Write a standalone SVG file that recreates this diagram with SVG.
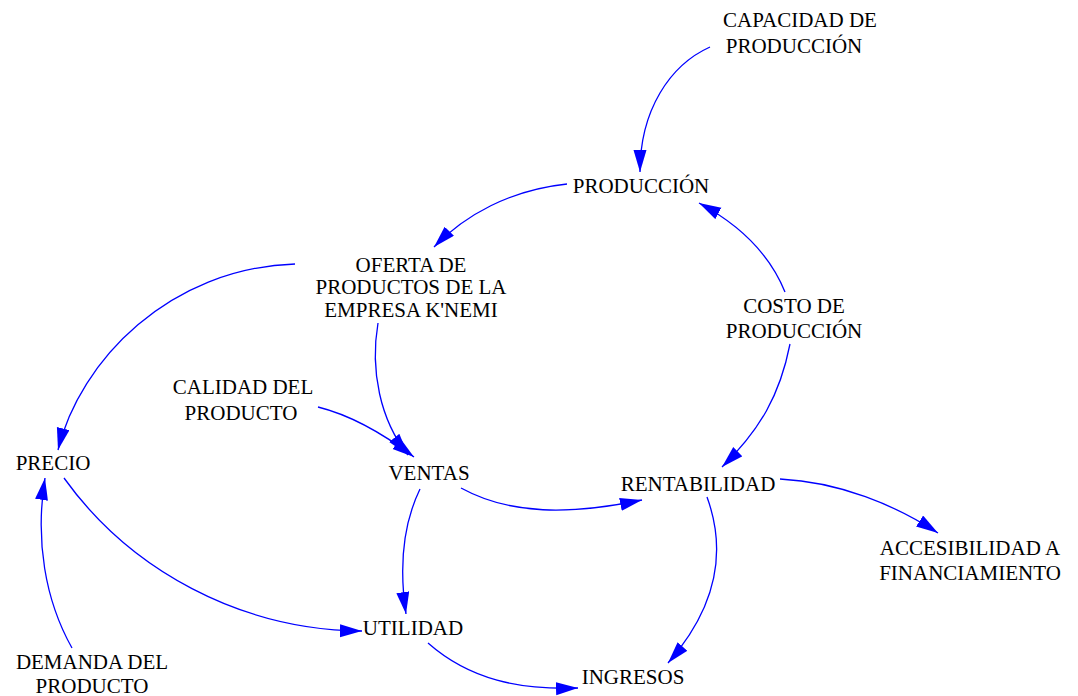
<svg xmlns="http://www.w3.org/2000/svg" width="1078" height="696" viewBox="0 0 1078 696">
<style>
.t text{font-size:21px;fill:#000;text-anchor:middle}
.c{fill:none;stroke:#0000FF;stroke-width:1.3}
</style>
<defs>
<marker id="ah" markerUnits="userSpaceOnUse" markerWidth="24" markerHeight="16" refX="22" refY="6.5" orient="auto">
<path d="M0,0 L22,6.5 L0,13 z" fill="#0000FF"/>
</marker>
</defs>
<rect width="1078" height="696" fill="#fff"/>
<g id="connectors">
<path class="c" marker-end="url(#ah)" d="M710,47 C670,65 640,110 640,172"/>
<path class="c" marker-end="url(#ah)" d="M567,184 C510,190 465,215 434,247"/>
<path class="c" marker-end="url(#ah)" d="M785,292 C770,255 740,225 699,203"/>
<path class="c" marker-end="url(#ah)" d="M790,344 C780,395 760,430 722,467"/>
<path class="c" marker-end="url(#ah)" d="M295,264 C170,268 80,360 58,450"/>
<path class="c" marker-end="url(#ah)" d="M378,323 C370,370 380,420 408,455"/>
<path class="c" marker-end="url(#ah)" d="M318,407 C350,415 385,435 414,457"/>
<path class="c" marker-end="url(#ah)" d="M64,478 C130,570 240,630 362,631"/>
<path class="c" marker-end="url(#ah)" d="M72,648 C45,600 35,540 45,478"/>
<path class="c" marker-end="url(#ah)" d="M420,489 C405,520 398,560 406,614"/>
<path class="c" marker-end="url(#ah)" d="M461,488 C510,515 570,515 642,500"/>
<path class="c" marker-end="url(#ah)" d="M780,479 C840,482 895,505 938,533"/>
<path class="c" marker-end="url(#ah)" d="M707,497 C730,560 710,615 668,663"/>
<path class="c" marker-end="url(#ah)" d="M428,643 C470,680 520,690 578,688"/>
</g>
<g class="t" font-family="'Liberation Serif', 'Times New Roman', Tinos, 'DejaVu Serif', serif">
<g id="capacidad"><text x="800" y="27">CAPACIDAD DE</text><text x="794" y="53">PRODUCCIÓN</text></g>
<g id="produccion"><text x="641" y="193">PRODUCCIÓN</text></g>
<g id="oferta"><text x="411" y="272">OFERTA DE</text><text x="411" y="294">PRODUCTOS DE LA</text><text x="411" y="317">EMPRESA K'NEMI</text></g>
<g id="costo"><text x="794" y="313">COSTO DE</text><text x="794" y="338">PRODUCCIÓN</text></g>
<g id="calidad"><text x="243" y="394">CALIDAD DEL</text><text x="241" y="420">PRODUCTO</text></g>
<g id="precio"><text x="53" y="470">PRECIO</text></g>
<g id="ventas"><text x="429" y="480">VENTAS</text></g>
<g id="rentabilidad"><text x="698" y="491">RENTABILIDAD</text></g>
<g id="accesibilidad"><text x="970" y="555">ACCESIBILIDAD A</text><text x="970" y="580">FINANCIAMIENTO</text></g>
<g id="utilidad"><text x="413" y="635">UTILIDAD</text></g>
<g id="demanda"><text x="92" y="669">DEMANDA DEL</text><text x="92" y="693">PRODUCTO</text></g>
<g id="ingresos"><text x="633" y="684">INGRESOS</text></g>
</g>
</svg>
